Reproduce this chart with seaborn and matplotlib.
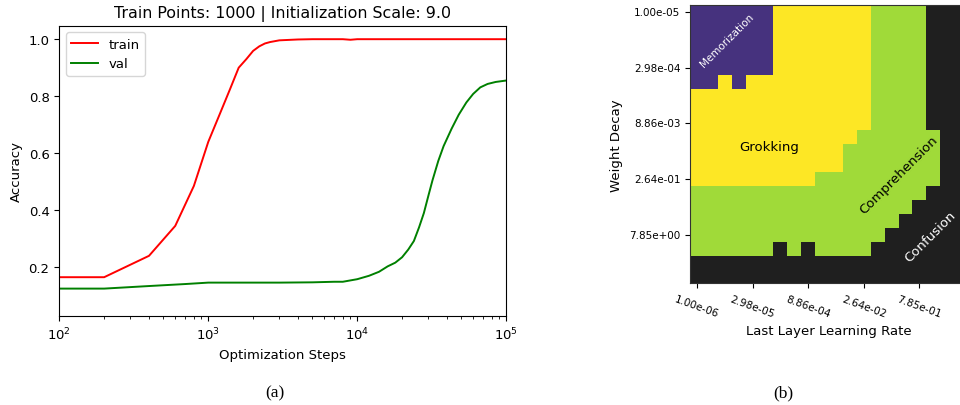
import numpy as np
import pandas as pd
import matplotlib
matplotlib.use("Agg")
import matplotlib.pyplot as plt
from matplotlib.colors import ListedColormap
import seaborn as sns

# ---- (a) training curves ----
title_a = "Train Points: 1000 | Initialization Scale: 9.0"

train_steps = [100, 200, 400, 600, 800, 1000, 1200, 1400, 1600, 1800, 2000, 2200,
               2400, 2600, 3000, 4000, 5000, 8000, 9000, 10000, 20000, 50000, 100000]
train_acc = [0.165, 0.165, 0.24, 0.345, 0.485, 0.64, 0.74, 0.825, 0.9, 0.93, 0.959, 0.975,
             0.985, 0.99, 0.996, 0.999, 1.0, 1.0, 0.998, 1.0, 1.0, 1.0, 1.0]

val_steps = [100, 200, 400, 700, 1000, 2000, 3000, 5000, 7000, 8000, 10000, 12000, 14000,
             16000, 18000, 20000, 22000, 24000, 26000, 28000, 30000, 32000, 35000, 38000,
             43000, 48000, 54000, 60000, 67000, 75000, 85000, 100000]
val_acc = [0.125, 0.125, 0.134, 0.141, 0.146, 0.146, 0.146, 0.147, 0.149, 0.149, 0.158, 0.17,
           0.184, 0.203, 0.216, 0.235, 0.262, 0.292, 0.34, 0.39, 0.45, 0.505, 0.573, 0.625,
           0.686, 0.735, 0.778, 0.808, 0.831, 0.843, 0.85, 0.855]

# ---- (b) phase diagram ----
# M = memorization, G = grokking, C = comprehension, X = confusion
phase_rows = [
    "MMMMMMGGGGGGGCCCCXXX",
    "MMMMMMGGGGGGGCCCCXXX",
    "MMMMMMGGGGGGGCCCCXXX",
    "MMMMMMGGGGGGGCCCCXXX",
    "MMMMMMGGGGGGGCCCCXXX",
    "MMGMGGGGGGGGGCCCCXXX",
    "GGGGGGGGGGGGGCCCCXXX",
    "GGGGGGGGGGGGGCCCCXXX",
    "GGGGGGGGGGGGGCCCCXXX",
    "GGGGGGGGGGGGCCCCCCXX",
    "GGGGGGGGGGGCCCCCCCXX",
    "GGGGGGGGGGGCCCCCCCXX",
    "GGGGGGGGGCCCCCCCCCXX",
    "CCCCCCCCCCCCCCCCCXXX",
    "CCCCCCCCCCCCCCCCXXXX",
    "CCCCCCCCCCCCCCCXXXXX",
    "CCCCCCCCCCCCCCXXXXXX",
    "CCCCCCXCXCCCCXXXXXXX",
    "XXXXXXXXXXXXXXXXXXXX",
    "XXXXXXXXXXXXXXXXXXXX",
]
phase_codes = {"X": 0, "M": 1, "G": 2, "C": 3}
phase_colors = ["#1f1f1f", "#46327e", "#fde725", "#a0da39"]
weight_decay = np.logspace(-5, 2, 20)
learning_rate = np.logspace(-6, 1, 20)

plt.rcParams["font.family"] = ["DejaVu Sans"]
plt.rcParams["font.size"] = 9.5

fig = plt.figure(figsize=(9.6, 4.06), dpi=100)

# left panel
ax1 = fig.add_axes([0.0618, 0.22, 0.4655, 0.714])
df_train = pd.DataFrame({"step": train_steps, "acc": train_acc})
df_val = pd.DataFrame({"step": val_steps, "acc": val_acc})
sns.lineplot(data=df_train, x="step", y="acc", color="red", lw=1.4, label="train", ax=ax1)
sns.lineplot(data=df_val, x="step", y="acc", color="green", lw=1.4, label="val", ax=ax1)
ax1.set_xscale("log")
ax1.set_xlim(100, 100000)
ax1.set_ylim(0.03, 1.047)
ax1.set_yticks([0.2, 0.4, 0.6, 0.8, 1.0])
ax1.set_xlabel("Optimization Steps")
ax1.set_ylabel("Accuracy")
ax1.set_title(title_a, fontsize=11.4)
ax1.legend(loc="upper left")

# right panel
grid = np.array([[phase_codes[ch] for ch in row] for row in phase_rows])
df_phase = pd.DataFrame(grid,
                        index=[f"{v:.2e}" for v in weight_decay],
                        columns=[f"{v:.2e}" for v in learning_rate])
ax2 = fig.add_axes([0.71875, 0.2997, 0.2896, 0.6848])
sns.heatmap(df_phase, cmap=ListedColormap(phase_colors), vmin=-0.5, vmax=3.5,
            cbar=False, xticklabels=4, yticklabels=4, ax=ax2)
for s in ax2.spines.values():
    s.set_visible(True)
    s.set_linewidth(0.8)
    s.set_color("#333333")
ax2.tick_params(labelsize=7.5)
plt.setp(ax2.get_yticklabels(), rotation=0)
plt.setp(ax2.get_xticklabels(), rotation=-20, ha="center")
ax2.set_xlabel("Last Layer Learning Rate")
ax2.set_ylabel("Weight Decay")

ax2.text(2.63, 2.48, "Memorization", color="white", fontsize=7.5, rotation=45,
         ha="center", va="center")
ax2.text(5.68, 10.14, "Grokking", color="black", fontsize=9.5, ha="center", va="center")
ax2.text(15.0, 12.15, "Comprehension", color="black", fontsize=9.5, rotation=45,
         ha="center", va="center")
ax2.text(17.27, 16.62, "Confusion", color="white", fontsize=9.5, rotation=45,
         ha="center", va="center")

# captions
fig.text(275.3 / 960, 1 - 393.3 / 406, "(a)", family="Liberation Serif", fontsize=12.5,
         ha="center", va="center")
fig.text(783.3 / 960, 1 - 393.3 / 406, "(b)", family="Liberation Serif", fontsize=12.5,
         ha="center", va="center")

fig.savefig("out.png", dpi=100)
